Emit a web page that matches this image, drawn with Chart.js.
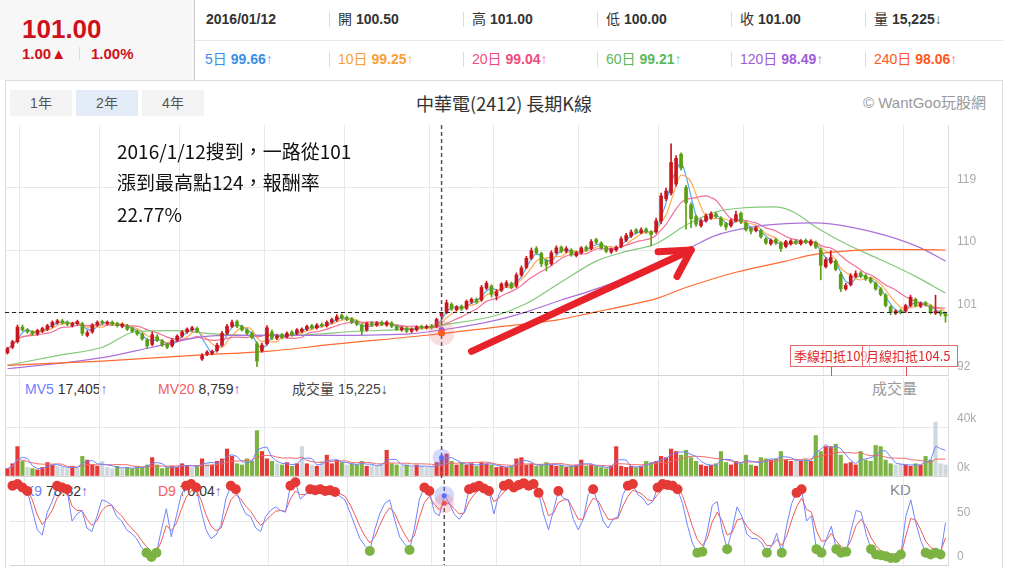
<!DOCTYPE html>
<html lang="zh-Hant">
<head>
<meta charset="utf-8">
<title>中華電(2412) 長期K線</title>
<script src="https://cdn.jsdelivr.net/npm/chart.js@4.4.0/dist/chart.umd.min.js"></script>
<style>
  html, body { margin: 0; padding: 0; background: #fff; }
  body { width: 1009px; height: 580px; position: relative; overflow: hidden;
    font-family: "Liberation Sans", Arial, "Noto Sans CJK TC", sans-serif; color: #333; }
  .abs { position: absolute; white-space: nowrap; }
  canvas { position: absolute; left: 5px; z-index: 2; }
  #hdrL { left: 0; top: 0; width: 194px; height: 80px; background: #f7f7f7; border-right: 1px solid #c8c8c8; }
  .big { left: 22px; top: 14px; font-size: 26px; line-height: 30px; font-weight: bold; color: #d0101a; }
  .chg { top: 45px; font-size: 15px; line-height: 17px; font-weight: bold; color: #d0101a; }
  .vsep { width: 1px; background: #dcdcdc; }
  .row1 { top: 10px; font-size: 14px; line-height: 18px; color: #333; }
  .row2 { top: 50px; font-size: 14px; line-height: 18px; }
  .row1 b, .row2 b { font-weight: bold; }
  .btn { top: 90px; width: 62px; height: 26px; line-height: 26px; text-align: center; font-size: 14px; color: #555; background: #f3f3f3; }
  .note { left: 117px; font-family: "Noto Sans CJK TC", sans-serif; font-size: 19px; line-height: 31px; color: #111; z-index: 3; }
  .lbl { font-size: 14px; line-height: 16px; color: #333; z-index: 1; }
  .box { top: 345px; height: 22px; box-sizing: border-box; border: 1px solid #e26a6a; color: #e02828;
    font-family: "Noto Sans CJK TC", sans-serif; font-size: 13px; line-height: 20px; padding-left: 3px; overflow: hidden; z-index: 3; }
</style>
</head>
<body>
<!-- quote header -->
<div id="hdrL" class="abs"></div>
<div class="abs big">101.00</div>
<div class="abs chg" style="left:22px">1.00▲</div>
<div class="abs vsep" style="left:79px;top:47px;height:13px"></div>
<div class="abs chg" style="left:91px">1.00%</div>
<div class="abs" style="left:195px;top:40px;width:808px;height:1px;background:#e8e8e8"></div>
<div id="row1"></div>
<div id="row2"></div>

<!-- chart frame -->
<div class="abs" style="left:5px;top:80px;width:998px;height:488px;box-sizing:border-box;border:1px solid #ddd;border-bottom:none"></div>
<div class="abs btn" style="left:10px">1年</div>
<div class="abs btn" style="left:76px;background:#e3ecf6">2年</div>
<div class="abs btn" style="left:142px">4年</div>
<div class="abs" style="left:5px;width:998px;top:92px;text-align:center;font-size:18px;line-height:22px;color:#333;font-family:'Noto Sans CJK TC',sans-serif">中華電(2412) 長期K線</div>
<div class="abs" style="left:863px;top:94px;font-size:15px;line-height:18px;color:#999">© WantGoo玩股網</div>

<div class="abs note" style="top:135px">2016/1/12搜到，一路從101</div>
<div class="abs note" style="top:166px">漲到最高點124，報酬率</div>
<div class="abs note" style="top:198px">22.77%</div>

<div class="abs box" style="left:790px;width:80px;background:#fff">季線扣抵109</div>
<div class="abs box" style="left:862px;width:96px;background:rgba(255,255,255,0.55)">月線扣抵104.5</div>

<!-- panel captions -->
<div class="abs lbl" style="left:25px;top:381px"><span style="color:#6f7dff">MV5</span> 17,405<span style="color:#8a63c9">↑</span></div>
<div class="abs lbl" style="left:158px;top:381px"><span style="color:#f06060">MV20</span> 8,759<span style="color:#8a63c9">↑</span></div>
<div class="abs lbl" style="left:292px;top:381px;color:#444">成交量 15,225↓</div>
<div class="abs lbl" style="left:872px;top:381px;color:#999;font-size:15px">成交量</div>
<div class="abs lbl" style="left:25px;top:483px"><span style="color:#6f84ff">K9</span> 78.82<span style="color:#8a63c9">↑</span></div>
<div class="abs lbl" style="left:158px;top:483px"><span style="color:#f06060">D9</span> 70.04<span style="color:#8a63c9">↑</span></div>
<div class="abs lbl" style="left:890px;top:482px;color:#888;font-size:15px">KD</div>

<canvas id="priceChart" width="998" height="262" style="top:120px"></canvas>
<canvas id="volChart" width="998" height="110" style="top:370px"></canvas>
<canvas id="kdChart" width="998" height="100" style="top:470px"></canvas>

<script>
// 中華電 2412, about two years, one candle per ~2 sessions
const opens = [95.2,96.0,96.8,98.9,98.5,98.3,97.9,98.3,98.6,99.0,
  99.5,99.8,99.6,99.1,99.4,99.4,97.7,98.2,99.2,99.7,
  99.4,99.6,99.4,99.0,99.1,98.7,98.3,97.9,97.0,96.4,
  97.5,96.9,96.4,96.2,97.0,97.6,98.2,98.5,98.7,94.3,
  95.0,95.1,95.5,96.3,98.0,99.0,99.7,99.0,98.5,98.0,
  96.5,95.5,96.5,98.2,97.3,97.8,97.5,98.2,98.0,98.3,
  98.6,99.1,98.8,99.3,99.1,99.6,99.9,100.6,100.3,100.1,
  99.7,99.2,98.5,99.5,99.2,99.6,99.2,99.5,99.0,98.5,
  98.7,98.3,98.5,99.0,98.8,99.1,99.0,100.5,101.0,102.2,
  101.4,101.9,101.6,102.5,102.9,102.8,104.5,104.8,103.4,104.2,
  104.8,105.2,104.8,106.4,107.5,108.8,110.2,109.5,108.5,108.0,
  109.6,110.4,109.8,110.0,109.2,109.6,110.4,110.2,111.5,111.0,
  110.4,109.7,110.0,110.5,111.4,112.0,112.9,112.5,113.0,112.6,
  112.6,114.2,117.4,118.2,119.5,123.8,119.0,116.5,114.8,113.5,
  114.2,114.6,115.2,114.6,113.8,113.5,114.2,115.3,113.9,113.1,
  112.8,112.8,111.6,110.9,111.5,111.0,110.5,110.9,111.3,110.9,
  111.4,110.8,111.1,110.0,107.6,108.2,108.4,106.5,104.4,105.0,
  106.2,106.7,106.3,105.9,105.2,104.4,103.5,101.8,100.9,101.3,
  101.2,102.0,102.9,101.9,102.4,101.9,100.9,101.1,100.8];
const highs = [96.0,97.0,99.2,99.2,98.7,98.4,98.6,98.9,99.3,99.8,
  100.0,100.0,99.8,99.6,99.9,99.6,98.4,99.4,99.8,99.9,
  99.8,99.8,99.6,99.5,99.3,98.9,98.5,98.1,97.3,98.2,
  97.8,97.1,96.6,97.2,97.8,98.4,98.8,99.0,98.9,95.1,
  95.5,95.6,96.6,98.3,99.3,99.9,99.9,99.2,98.7,98.2,
  96.8,96.6,99.1,98.5,97.8,98.0,98.2,98.4,98.7,98.8,
  99.2,99.3,99.4,99.5,99.8,100.2,100.7,100.8,100.5,100.3,
  99.9,99.4,99.6,99.7,99.7,99.8,99.8,99.7,99.2,99.0,
  98.9,98.8,99.1,99.2,99.2,99.3,100.2,101.0,102.8,102.4,
  102.0,102.1,102.8,103.1,103.1,104.9,105.5,105.0,104.3,105.3,
  105.6,105.4,106.7,107.7,109.1,110.3,110.5,109.7,108.7,109.9,
  110.6,110.6,110.5,110.2,109.8,110.5,110.6,111.5,111.7,111.2,
  110.6,110.3,110.6,111.9,112.4,112.9,113.1,113.2,113.2,112.8,
  114.6,118.2,118.9,125.3,123.6,124.0,119.3,116.8,115.0,114.5,
  115.2,115.5,115.4,114.8,114.0,114.5,115.6,115.5,114.1,113.3,
  113.4,113.0,111.8,111.6,111.7,111.2,111.4,111.5,111.5,111.5,
  111.6,111.5,111.3,110.3,108.9,109.9,108.6,106.8,105.2,106.6,
  107.0,106.9,106.5,106.1,105.4,104.6,103.7,102.0,101.4,101.5,
  102.2,103.5,103.1,102.5,102.6,102.1,103.5,101.3,101.0];
const lows = [95.0,95.8,96.6,98.3,98.0,97.7,97.7,98.1,98.4,98.8,
  99.3,99.3,99.1,98.9,99.2,97.7,97.5,98.0,99.0,99.3,
  99.2,99.1,98.9,98.8,98.4,98.1,97.7,97.0,95.8,96.2,
  96.8,96.1,95.8,96.0,96.8,97.4,98.0,98.3,98.1,94.1,
  94.8,94.9,95.3,96.1,97.8,98.8,98.8,98.3,97.8,97.2,
  93.2,95.3,96.3,97.1,97.1,97.2,97.3,97.6,97.8,98.1,
  98.4,98.6,98.6,98.9,98.9,99.4,99.7,100.0,99.8,99.4,
  99.1,97.8,98.3,99.0,99.0,99.1,99.0,98.8,98.4,98.3,
  98.1,98.1,98.3,98.6,98.6,98.6,98.8,100.0,100.8,101.3,
  101.2,101.3,101.4,102.3,102.3,102.6,104.3,103.2,102.8,104.0,
  104.6,104.4,104.6,106.2,107.3,108.6,109.4,107.6,107.0,107.8,
  109.4,109.6,109.6,109.1,109.0,109.4,109.8,110.0,110.9,110.1,
  109.6,109.5,109.8,110.3,111.2,111.8,112.3,112.3,112.4,110.6,
  112.4,113.8,117.1,117.9,119.2,121.5,113.0,113.2,113.4,113.3,
  114.0,114.4,114.6,113.4,112.9,113.3,114.0,113.8,112.7,112.3,
  112.6,111.7,110.8,110.7,110.8,109.8,110.3,110.7,110.8,110.7,
  110.9,110.6,110.2,105.7,107.4,108.0,107.0,104.0,104.2,104.8,
  106.0,106.0,105.6,105.2,104.2,103.4,101.8,100.7,100.7,100.8,
  101.0,101.8,101.8,101.7,101.9,100.8,100.7,100.5,99.6];
const closes = [95.8,96.8,98.9,98.5,98.2,97.9,98.4,98.7,99.1,99.6,
  99.8,99.5,99.3,99.4,99.7,98.0,98.1,99.2,99.6,99.5,
  99.6,99.3,99.1,99.3,98.6,98.3,97.9,97.2,96.2,97.8,
  97.0,96.3,96.0,97.0,97.6,98.2,98.6,98.8,98.3,94.8,
  95.3,95.4,96.3,98.0,99.0,99.6,99.0,98.5,98.0,97.4,
  94.0,96.3,98.8,97.3,97.6,97.4,98.0,97.8,98.5,98.6,
  99.0,98.8,99.2,99.1,99.6,100.0,100.4,100.2,100.0,99.6,
  99.3,98.4,99.4,99.2,99.5,99.3,99.6,99.0,98.6,98.8,
  98.3,98.6,98.9,98.8,99.0,98.8,100.0,101.0,102.4,101.5,
  101.8,101.5,102.6,102.9,102.5,104.6,105.2,103.6,104.0,105.1,
  105.3,104.6,106.4,107.4,108.8,109.9,109.6,108.0,107.8,109.6,
  110.3,109.8,110.2,109.3,109.6,110.3,110.0,111.2,111.1,110.3,
  109.8,110.1,110.4,111.6,112.1,112.6,112.5,112.9,112.6,112.2,
  114.2,117.8,118.5,122.6,123.2,121.8,116.8,114.5,113.7,114.2,
  114.9,115.2,114.8,113.6,113.3,114.2,115.1,114.0,112.9,112.7,
  113.2,111.9,111.0,111.4,111.0,110.2,111.2,111.3,111.0,111.3,
  111.1,111.3,110.4,107.8,108.6,108.9,107.2,104.4,104.9,106.3,
  106.6,106.2,105.8,105.4,104.4,103.6,102.0,101.0,101.2,101.0,
  102.0,103.2,102.0,102.3,102.1,101.0,101.2,100.8,100.5];
// volume in thousands of lots
const volumes = [6,10,24,12,7,6,5,7,11,9,
  8,7,6,8,7,16,13,9,8,12,
  7,6,8,6,7,6,8,7,9,15,
  9,6,7,8,7,10,8,7,8,14,
  10,9,12,14,22,16,10,9,14,12,
  37,20,14,12,10,9,11,8,10,24,
  10,9,8,12,17,10,13,11,9,10,
  9,12,8,9,8,10,21,10,9,8,
  9,7,9,8,7,8,11,15.2,18,12,
  9,11,9,10,8,11,10,9,7,8,
  7,8,14,15,9,10,8,9,11,9,
  8,9,7,8,9,13,8,9,8,7,
  6,8,24,8,7,8,7,8,12,11,
  12,16,15,22,20,17,21,15,12,9,
  8,9,10,20,11,9,12,10,17,9,
  8,15,14,13,14,20,13,12,14,12,
  13,12,33,20,24,24,26,17,10,11,
  9,20,13,12,25,24,13,10,9,10,
  9,8,10,9,16,13,44,10,9];
const kValues = [90,92,88,84,62,40,34,60,72,90,
  88,86,50,58,62,42,38,55,74,72,
  68,55,50,40,36,30,20,14,9,14,
  40,64,32,55,80,90,92,88,62,40,
  30,34,45,75,90,86,70,58,55,42,
  38,55,62,66,62,60,90,94,75,80,
  86,85,86,84,85,83,78,74,60,45,
  30,22,16,40,58,70,74,52,32,24,
  17,42,75,88,84,60,56,78.82,70,58,
  52,60,86,88,90,87,84,58,80,90,
  92,88,91,93,90,92,82,58,40,62,
  84,76,74,52,40,52,80,86,70,50,
  42,52,55,80,90,92,80,76,68,72,
  88,92,91,90,86,70,45,25,14,15,
  38,68,72,40,18,40,66,55,35,30,
  30,25,14,22,36,14,45,70,82,86,
  50,56,18,14,30,44,18,14,15,40,
  62,60,35,18,12,11,10,8,8,12,
  55,74,48,28,14,12,14,12,48];
const dValues = [85,88,88,86,74,57,46,53,62,76,
  82,84,67,62,62,52,45,50,62,67,
  68,61,56,48,42,36,28,21,15,14,
  27,45,39,47,63,77,84,86,74,57,
  44,39,42,58,74,80,75,67,61,52,
  45,50,56,61,62,61,75,84,80,80,
  83,84,85,84,84,84,81,78,69,57,
  44,33,25,32,45,57,65,59,46,35,
  26,34,54,71,78,69,63,70.04,70,64,
  58,59,72,80,85,86,85,72,76,83,
  87,88,89,91,90,91,87,73,56,59,
  71,74,74,63,52,52,66,76,73,62,
  52,52,53,67,78,85,83,80,74,73,
  80,86,88,89,88,79,62,44,29,22,
  30,49,60,50,34,37,51,53,44,37,
  34,30,22,22,29,22,33,51,66,76,
  63,60,39,27,28,36,27,21,18,29,
  45,52,44,31,22,16,13,11,10,11,
  33,53,51,40,27,20,17,15,31];

// long moving averages read at a few candles: [candle index, value]
const ma60Pts = [[0,93.4],[10,94.8],[19,96.0],[26,98.3],[34,98.4],[40,98.0],[50,97.7],[60,97.8],[70,98.3],[80,98.6],
  [88,99.3],[98,100.6],[104,102.3],[111,105.4],[118,108.4],[124,109.8],[130,110.9],[136,113.6],[142,115.5],
  [148,116.1],[154,116.2],[158,115.3],[162,113.3],[168,110.9],[175,108.6],[182,106.2],[188,103.8]];
const ma120Pts = [[0,92.9],[19,94.5],[29,96.0],[39,97.5],[46,97.7],[62,97.7],[80,97.9],[89,98.7],[98,99.9],
  [104,101.1],[111,102.8],[118,104.4],[128,107.2],[137,110.4],[142,112.1],[149,113.3],[156,113.8],[162,113.9],
  [169,113.3],[176,112.1],[183,110.3],[188,108.4]];
const ma240Pts = [[0,93.4],[19,94.0],[39,94.9],[52,95.4],[65,96.4],[85,97.8],[98,98.9],[110,99.9],[118,101.1],
  [124,102.0],[130,103.0],[136,104.6],[146,106.8],[156,108.4],[162,109.4],[169,109.9],[176,110.1],[188,110.0]];

const priceTicks = [92, 101, 110, 119, 128];
const volTicks = [0, 40, 80];
const kdTicks = [0, 50, 100];
const monthBreaks = [2.5, 18.5, 34.5, 51.5, 67.5, 84.5, 97.5, 114.5, 130.5, 147.5, 163.5, 179.5];

const pickIdx = 87;            // 2016/01/12
const refPrice = 101;          // close on that day
const arrowFrom = [93, 95.4];  // [candle index, price]
const arrowTo = [137, 110];
const deductIdx = [165, 180];

const quoteLabels = ['', '開', '高', '低', '收', '量'];
const quoteValues = ['2016/01/12', '100.50', '101.00', '100.00', '101.00', '15,225'];
const maLabels = ['5日', '10日', '20日', '60日', '120日', '240日'];
const maValues = [99.66, 99.25, 99.04, 99.21, 98.49, 98.06];
const maColors = ['#3a8ee6', '#f7a035', '#ef4b7d', '#5cb85c', '#a05cd6', '#ff5722'];

// header rows
const row1 = document.getElementById('row1');
const row2 = document.getElementById('row2');
quoteValues.forEach((v, k) => {
  const left = k === 0 ? 206 : 195 + k * 134 + 9;
  const d = document.createElement('div');
  d.className = 'abs row1';
  d.style.left = left + 'px';
  d.innerHTML = (quoteLabels[k] ? quoteLabels[k] + ' ' : '') + '<b>' + v + '</b>' + (k === 5 ? '<span style="color:#666">↓</span>' : '');
  row1.appendChild(d);
  const m = document.createElement('div');
  m.className = 'abs row2';
  m.style.left = left - (k === 0 ? 1 : 0) + 'px';
  m.style.color = maColors[k];
  m.innerHTML = maLabels[k] + ' <b>' + maValues[k].toFixed(2) + '</b><span style="opacity:.7">↑</span>';
  row2.appendChild(m);
  if (k > 0) {
    [12, 52].forEach(t => {
      const s = document.createElement('div');
      s.className = 'abs vsep';
      s.style.cssText = 'left:' + (195 + k * 134) + 'px;top:' + t + 'px;height:15px';
      row1.appendChild(s);
    });
  }
});

const N = closes.length;
const RED = '#c9161e', GREEN = '#5c9e13';
const isUp = i => closes[i] >= opens[i];

// each candle is ~2 sessions, so 5/10/20-day lines use 3/5/10 candles
function movingAvg(src, n) {
  return src.map((_, i) => {
    const s = Math.max(0, i - n + 1);
    let t = 0;
    for (let k = s; k <= i; k++) t += src[k];
    return { x: i, y: t / (i - s + 1) };
  });
}
const toPts = arr => arr.map(([i, v]) => ({ x: i, y: v }));

Chart.defaults.font.family = '"Liberation Sans", Arial, sans-serif';
Chart.defaults.animation = false;
Chart.defaults.plugins.legend.display = false;
Chart.defaults.plugins.tooltip.enabled = false;

function xScale() {
  return {
    type: 'linear', min: -0.5, max: N - 0.5, offset: false,
    afterBuildTicks: s => { s.ticks = monthBreaks.map(v => ({ value: v })); },
    afterFit: s => { s.height = 0; s.paddingLeft = 0; s.paddingRight = 0; },
    ticks: { display: false },
    grid: { color: '#e8e8e8', drawTicks: false, offset: false },
    border: { display: false }
  };
}
function yScale(min, max, ticks, labelFn, hidden, offset) {
  return {
    type: 'linear', position: 'right', min, max,
    afterBuildTicks: s => { s.ticks = ticks.map(v => ({ value: v })); },
    afterFit: s => { s.width = 55; s.paddingTop = 0; s.paddingBottom = 0; },
    ticks: { color: '#aaa', font: { size: 12 }, padding: 9, labelOffset: offset,
      callback: v => v === hidden ? '' : labelFn(v) },
    grid: { drawTicks: false,
      color: c => c.tick && c.tick.value === hidden ? 'rgba(0,0,0,0)' : (c.tick && c.tick.value === min ? '#d4d4d4' : '#e8e8e8') },
    border: { display: true, color: '#dcdcdc' }
  };
}
function crosshair(ctx, px, top, bottom) {
  ctx.save();
  ctx.strokeStyle = '#555';
  ctx.lineWidth = 1.5;
  ctx.setLineDash([4, 3]);
  ctx.beginPath();
  ctx.moveTo(px, top);
  ctx.lineTo(px, bottom);
  ctx.stroke();
  ctx.restore();
}
function glow(ctx, px, py, r, fill) {
  ctx.beginPath();
  ctx.arc(px, py, r, 0, Math.PI * 2);
  ctx.fillStyle = fill;
  ctx.fill();
}
function maLine(data, color) {
  return { type: 'line', data, borderColor: color, borderWidth: 1.2, pointRadius: 0,
    cubicInterpolationMode: 'monotone', spanGaps: true, order: 3 };
}

// price panel
const mainMarks = {
  id: 'mainMarks',
  afterDatasetsDraw(chart) {
    const { ctx, chartArea: a, scales: { x, y } } = chart;
    ctx.save();
    const yRef = y.getPixelForValue(refPrice);
    ctx.strokeStyle = '#222';
    ctx.lineWidth = 1.2;
    ctx.setLineDash([4, 3]);
    ctx.beginPath();
    ctx.moveTo(a.left, yRef);
    ctx.lineTo(a.right, yRef);
    ctx.stroke();
    ctx.setLineDash([]);

    const px = x.getPixelForValue(pickIdx);
    crosshair(ctx, px, a.top, a.bottom + 2);
    glow(ctx, px, y.getPixelForValue(maValues[5]), 13, 'rgba(225,110,110,0.22)');
    glow(ctx, px, y.getPixelForValue(maValues[4]), 3, '#9b59d0');
    glow(ctx, px, y.getPixelForValue(maValues[5]), 3.5, '#ff5a1f');

    // deduction markers
    ctx.strokeStyle = '#e0505a';
    ctx.lineWidth = 1;
    deductIdx.forEach(i => {
      const dx = Math.round(x.getPixelForValue(i)) + 0.5;
      ctx.beginPath();
      ctx.moveTo(dx, a.bottom - 8);
      ctx.lineTo(dx, a.bottom + 1);
      ctx.stroke();
    });

    // red arrow
    const x0 = x.getPixelForValue(arrowFrom[0]), y0 = y.getPixelForValue(arrowFrom[1]);
    const x1 = x.getPixelForValue(arrowTo[0]), y1 = y.getPixelForValue(arrowTo[1]);
    ctx.strokeStyle = '#e8222a';
    ctx.lineWidth = 7;
    ctx.lineCap = 'round';
    ctx.beginPath();
    ctx.moveTo(x0, y0);
    ctx.lineTo(x1, y1);
    ctx.stroke();
    const back = Math.atan2(y0 - y1, x0 - x1);
    [[0.38, 33], [-0.65, 30]].forEach(([d, len]) => {
      ctx.beginPath();
      ctx.moveTo(x1, y1);
      ctx.lineTo(x1 + len * Math.cos(back + d), y1 + len * Math.sin(back + d));
      ctx.stroke();
    });
    ctx.restore();
  }
};

new Chart(document.getElementById('priceChart'), {
  data: {
    datasets: [
      { type: 'bar', data: lows.map((v, i) => ({ x: i, y: [v, highs[i]] })), barThickness: 1, grouped: false,
        backgroundColor: c => isUp(c.dataIndex) ? RED : GREEN, order: 2 },
      { type: 'bar', data: opens.map((v, i) => ({ x: i, y: [v, closes[i]] })), barThickness: 3, minBarLength: 1, grouped: false,
        backgroundColor: c => isUp(c.dataIndex) ? RED : GREEN, order: 1 },
      maLine(toPts(ma240Pts), '#ff6a30'),
      maLine(toPts(ma120Pts), '#ab72da'),
      maLine(toPts(ma60Pts), '#84c87a'),
      maLine(movingAvg(closes, 10), '#f2719a'),
      maLine(movingAvg(closes, 5), '#ffab55'),
      maLine(movingAvg(closes, 3), '#55a8ee')
    ]
  },
  options: {
    responsive: false,
    layout: { padding: { top: 5, bottom: 7, left: 0, right: 0 } },
    scales: { x: xScale(), y: yScale(92, 128, priceTicks, v => v, 128, -8) }
  },
  plugins: [mainMarks]
});

// volume panel
const volMarks = {
  id: 'volMarks',
  afterDatasetsDraw(chart) {
    const { ctx, chartArea: a, scales: { x, y } } = chart;
    const px = x.getPixelForValue(pickIdx);
    crosshair(ctx, px, a.top - 2, chart.height);
    ctx.save();
    glow(ctx, px, y.getPixelForValue(volumes[pickIdx]), 9, 'rgba(120,130,255,0.3)');
    glow(ctx, px, y.getPixelForValue(volumes[pickIdx]), 2.5, '#5a6cff');
    ctx.restore();
  }
};
new Chart(document.getElementById('volChart'), {
  data: {
    datasets: [
      { type: 'bar', data: volumes.map((v, i) => ({ x: i, y: v })), barThickness: 3.5, order: 2,
        backgroundColor: c => Math.abs(closes[c.dataIndex] - opens[c.dataIndex]) <= 0.3 ? '#cfd8dc'
          : (isUp(c.dataIndex) ? '#e53935' : '#7cb342') },
      { type: 'line', data: movingAvg(volumes, 10), borderColor: '#f36b6b', borderWidth: 1, pointRadius: 0, order: 1 },
      { type: 'line', data: movingAvg(volumes, 3), borderColor: '#7084ff', borderWidth: 1, pointRadius: 0, order: 0 }
    ]
  },
  options: {
    responsive: false,
    layout: { padding: { top: 8, bottom: 4, left: 0, right: 0 } },
    scales: { x: xScale(), y: yScale(0, 80, volTicks, v => v + 'k', 80, -8) }
  },
  plugins: [volMarks]
});

// KD panel
const kdMarks = {
  id: 'kdMarks',
  afterDatasetsDraw(chart) {
    const { ctx, chartArea: a, scales: { x, y } } = chart;
    const px = x.getPixelForValue(pickIdx);
    crosshair(ctx, px, 10, a.bottom);
    ctx.save();
    glow(ctx, px, y.getPixelForValue(kValues[pickIdx]), 10, 'rgba(120,130,255,0.3)');
    glow(ctx, px, y.getPixelForValue(dValues[pickIdx]), 10, 'rgba(240,110,110,0.25)');
    glow(ctx, px, y.getPixelForValue(kValues[pickIdx]), 2.5, '#5a6cff');
    glow(ctx, px, y.getPixelForValue(dValues[pickIdx]), 2.5, '#f05050');
    ctx.restore();
  }
};
new Chart(document.getElementById('kdChart'), {
  type: 'line',
  data: {
    datasets: [
      { data: dValues.map((v, i) => ({ x: i, y: v })), borderColor: '#f05a5a', borderWidth: 1, pointRadius: 0, order: 2 },
      { data: kValues.map((v, i) => ({ x: i, y: v })), borderColor: '#6f84ff', borderWidth: 1, clip: false, order: 1,
        pointRadius: c => (c.raw.y > 80 || c.raw.y < 20) ? 5 : 0,
        pointBackgroundColor: c => c.raw.y > 80 ? '#e53935' : '#7cb342',
        pointBorderWidth: 0 }
    ]
  },
  options: {
    responsive: false,
    layout: { padding: { top: 7, bottom: 3, left: 0, right: 0 } },
    scales: { x: xScale(), y: yScale(0, 100, kdTicks, v => v, 100, -8) }
  },
  plugins: [kdMarks]
});
</script>
</body>
</html>
